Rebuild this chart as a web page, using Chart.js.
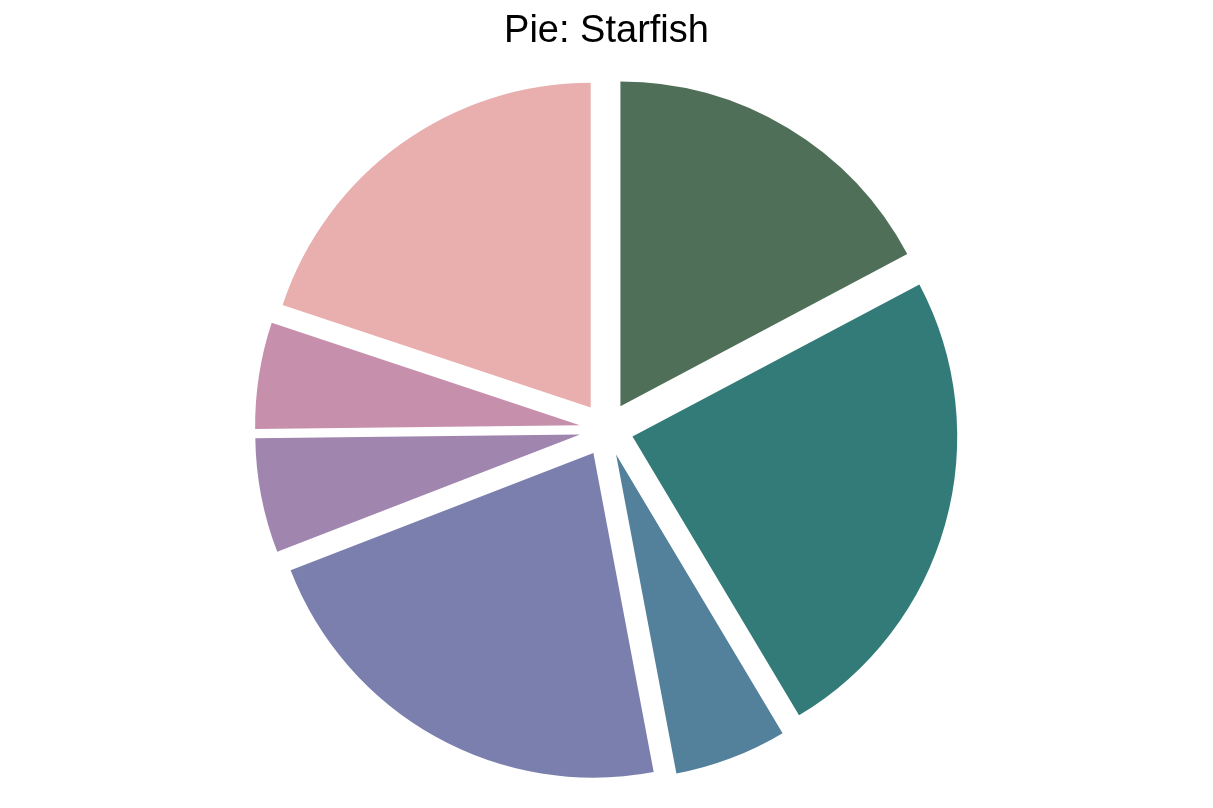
<!DOCTYPE html>
<html>
<head>
<meta charset="utf-8">
<script src="https://cdn.jsdelivr.net/npm/chart.js@4"></script>
<style>
  html, body { margin: 0; padding: 0; background: #ffffff; }
  #wrap { width: 1213px; height: 808px; }
</style>
</head>
<body>
<div id="wrap"><canvas id="c" width="1213" height="808"></canvas></div>
<script>
const titleText = "Pie: Starfish";
const categories = ["Slice A", "Slice B", "Slice C", "Slice D", "Slice E", "Slice F", "Slice G"];
const values = [17.25, 24.2, 5.6, 22.1, 5.7, 5.3, 19.9];
const colors = ["#4F6F58", "#337B79", "#53819B", "#7A7FAE", "#A085AE", "#C690AC", "#E9AEAE"];
const explodeDistance = 27;

// Explode every slice outward along its own bisector by a fixed distance
const explodePlugin = {
  id: "explode",
  afterDatasetsUpdate(chart) {
    chart.getSortedVisibleDatasetMetas().forEach(meta => {
      meta.data.forEach(arc => {
        const mid = (arc.startAngle + arc.endAngle) / 2;
        const cx = (chart.chartArea.left + chart.chartArea.right) / 2;
        const cy = (chart.chartArea.top + chart.chartArea.bottom) / 2;
        arc.x = cx + Math.cos(mid) * explodeDistance;
        arc.y = cy + Math.sin(mid) * explodeDistance;
      });
    });
  }
};

new Chart(document.getElementById("c"), {
  type: "pie",
  data: {
    labels: categories,
    datasets: [{
      data: values,
      backgroundColor: colors,
      borderWidth: 0,
      offset: 0,
      hoverOffset: 0
    }]
  },
  options: {
    responsive: false,
    animation: false,
    layout: { padding: { top: 0, bottom: 54, left: 0, right: 0 } },
    plugins: {
      legend: { display: false },
      tooltip: { enabled: false },
      title: {
        display: true,
        text: titleText,
        color: "#000000",
        font: { family: "'Liberation Sans', Arial, sans-serif", size: 38, weight: "normal" },
        padding: { top: 9, bottom: 50 }
      }
    }
  },
  plugins: [explodePlugin]
});
</script>
</body>
</html>
